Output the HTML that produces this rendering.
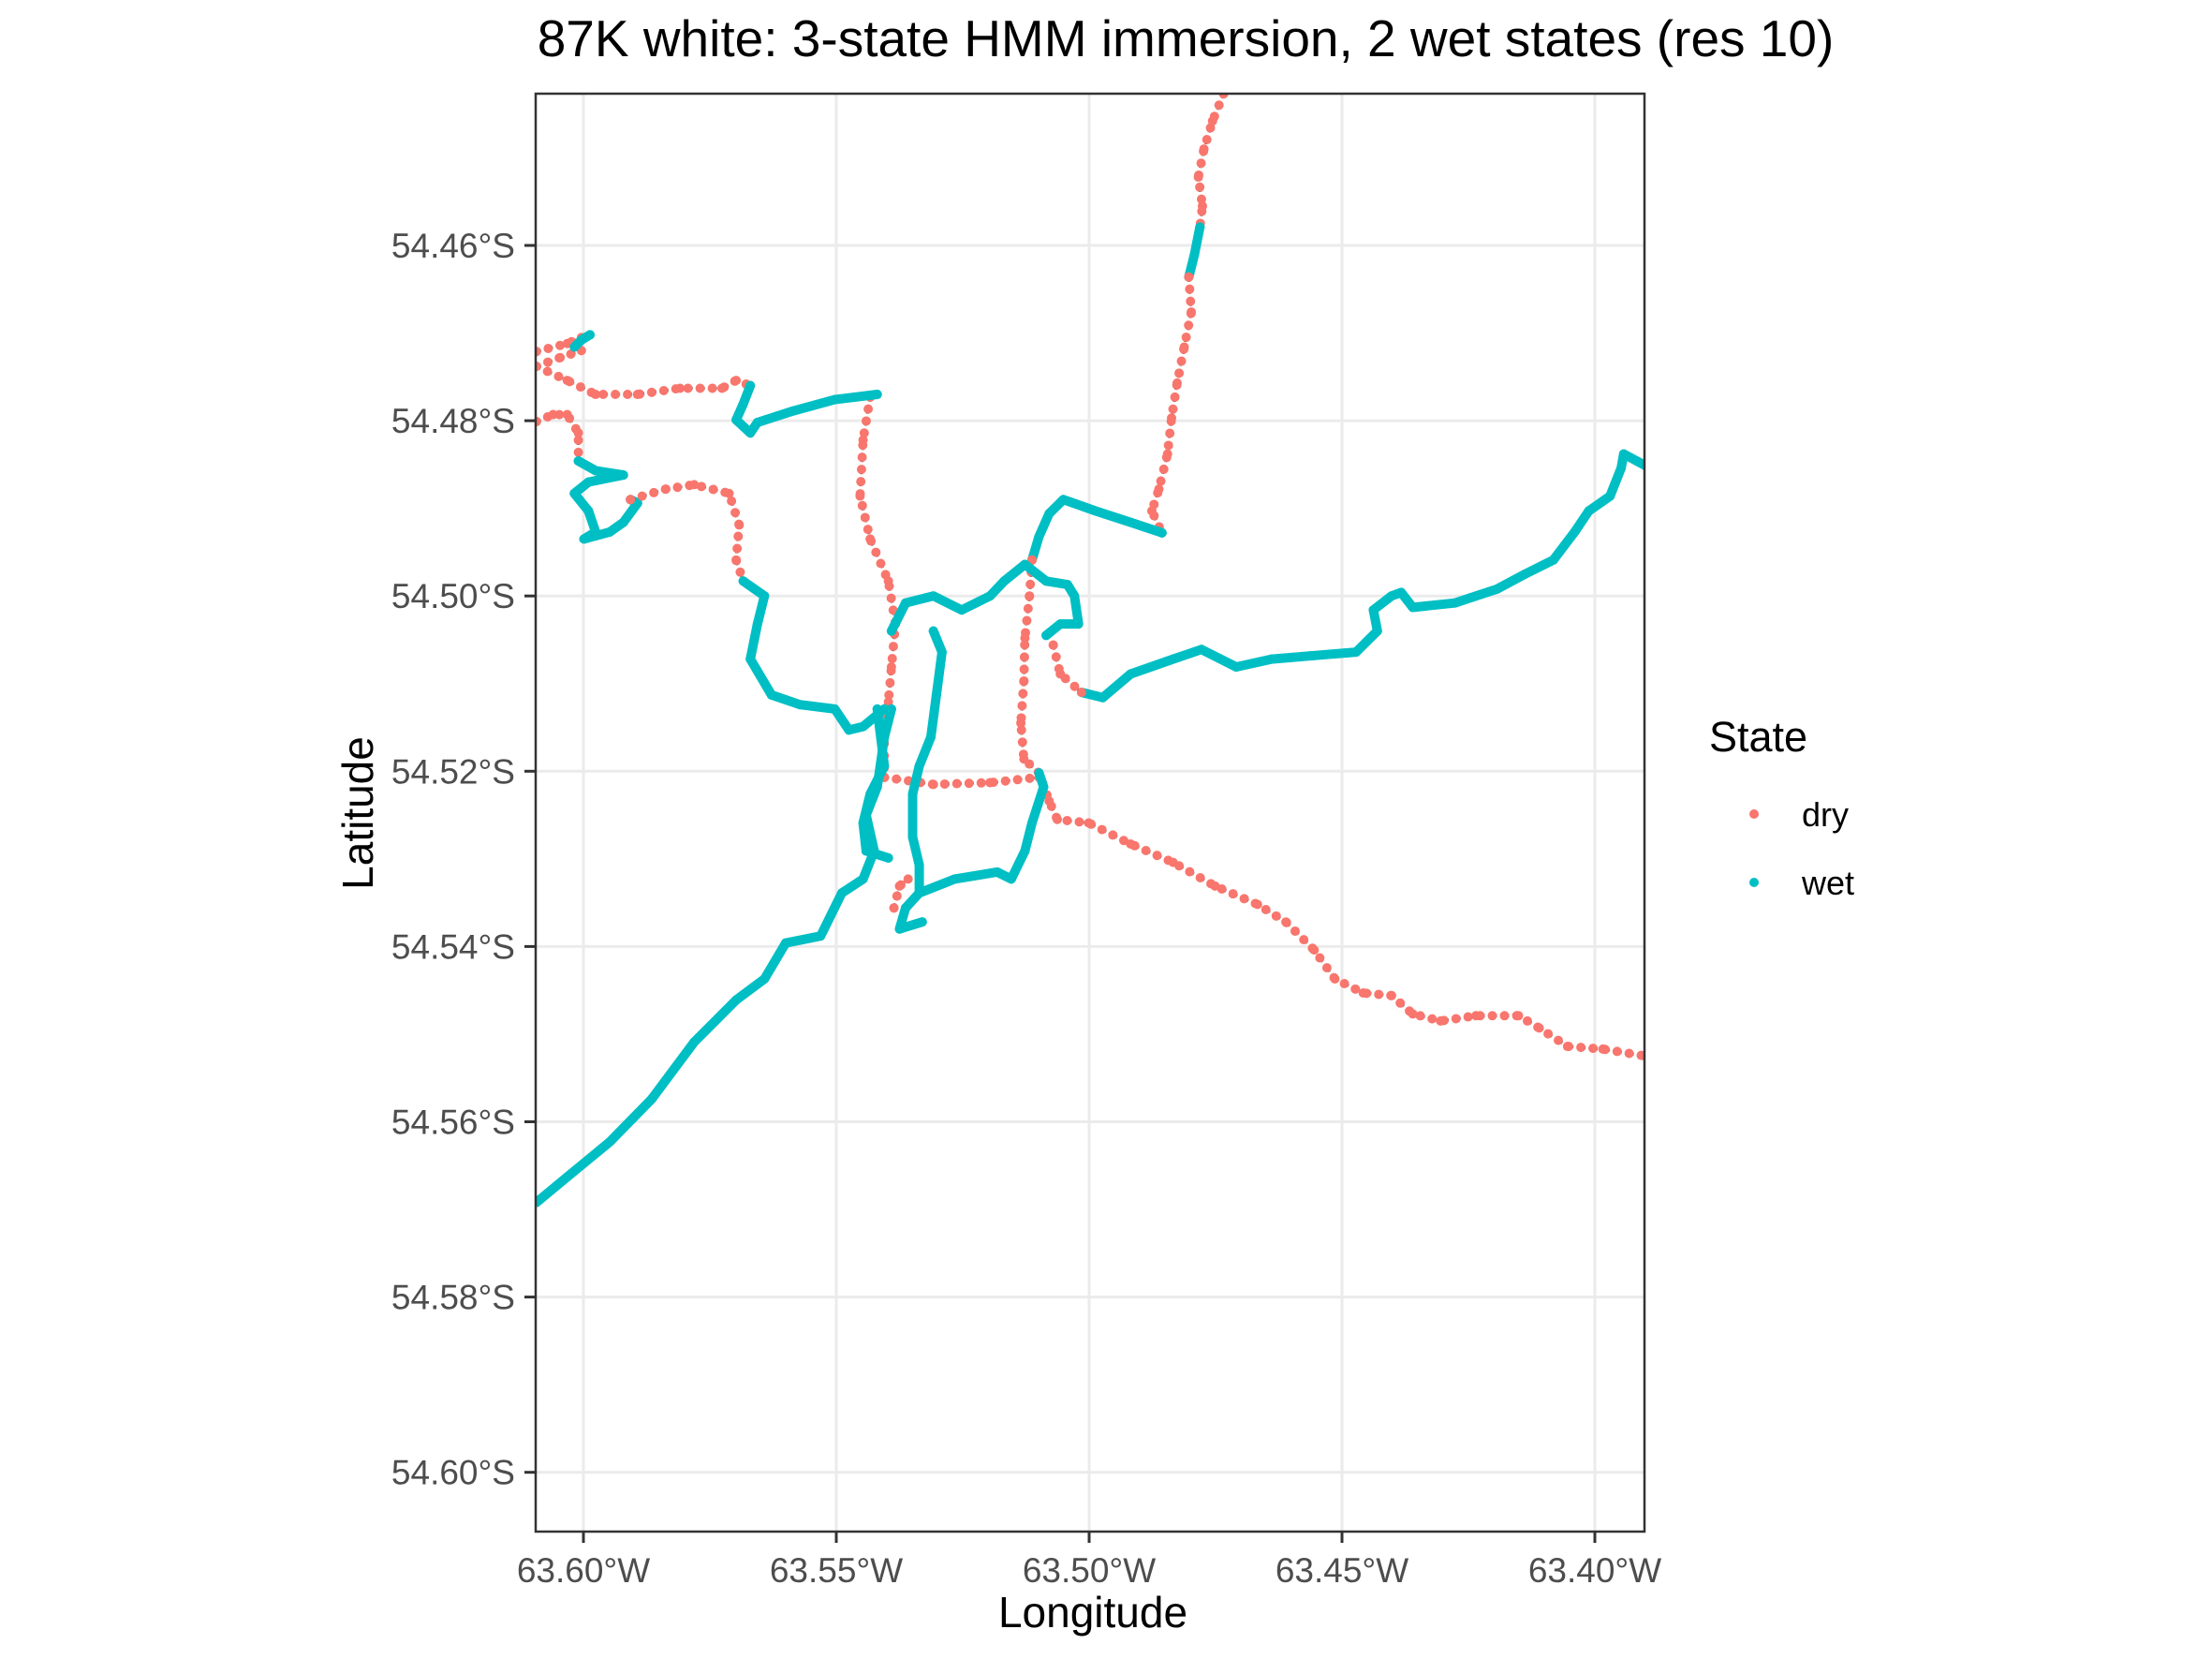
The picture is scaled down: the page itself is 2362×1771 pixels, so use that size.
<!DOCTYPE html>
<html><head><meta charset="utf-8"><style>
html,body{margin:0;padding:0;background:#fff;}
svg{display:block;font-family:"Liberation Sans",Arial,sans-serif;}
</style></head><body>
<svg id="chart" width="2362" height="1771" viewBox="0 0 2362 1771" xmlns="http://www.w3.org/2000/svg">
<rect width="2362" height="1771" fill="#fff"/>
<text x="1266" y="60" text-anchor="middle" font-size="55" fill="#000">87K white: 3-state HMM immersion, 2 wet states (res 10)</text>
<defs><clipPath id="pc"><rect x="572" y="100" width="1184" height="1535"/></clipPath></defs>
<g id="grid"></g>
<g id="tracks" clip-path="url(#pc)"></g>
<rect x="572" y="100" width="1184" height="1535" fill="none" stroke="#333" stroke-width="2.5"/>
<g id="axes"></g>
<text x="1167" y="1737" text-anchor="middle" font-size="46" fill="#000">Longitude</text>
<text transform="translate(398,868) rotate(-90)" text-anchor="middle" font-size="46" fill="#000">Latitude</text>
<g>
<text x="1825" y="802" font-size="45" fill="#000">State</text>
<circle cx="1873" cy="869" r="5" fill="#F8766D"/>
<text x="1924" y="882" font-size="36" fill="#000">dry</text>
<circle cx="1873" cy="942" r="5" fill="#00BFC4"/>
<text x="1924" y="955" font-size="36" fill="#000">wet</text>
</g>
</svg>
<script>
const xTicks=[63.60,63.55,63.50,63.45,63.40];
const xTickLabels=["63.60°W","63.55°W","63.50°W","63.45°W","63.40°W"];
const yTicks=[54.46,54.48,54.50,54.52,54.54,54.56,54.58,54.60];
const yTickLabels=["54.46°S","54.48°S","54.50°S","54.52°S","54.54°S","54.56°S","54.58°S","54.60°S"];

const d1Lon=[63.4734,63.4756,63.4773,63.4784,63.4776,63.4781];
const d1Lat=[54.4427,54.4458,54.4490,54.4522,54.4555,54.4579];
const w1Lon=[63.4781,63.4792,63.4803];
const w1Lat=[54.4579,54.4611,54.4636];
const d2Lon=[63.4803,63.4798,63.4812,63.4826,63.4837,63.4845,63.4862,63.4876,63.4856];
const d2Lat=[54.4636,54.4676,54.4716,54.4757,54.4797,54.4838,54.4878,54.4903,54.4928];
const w2Lon=[63.4856,63.4918,63.4987,63.5051,63.5079,63.5099,63.5113];
const w2Lat=[54.4928,54.4916,54.4903,54.4890,54.4906,54.4932,54.4959];
const d3Lon=[63.5113,63.5118,63.5127,63.5129,63.5135,63.5129,63.5099,63.5079,63.5063,63.5001,63.4918,63.4834,63.4751,63.4667,63.4611,63.4555,63.4514,63.4458,63.4402,63.4360,63.4305,63.4235,63.4151,63.4110,63.4054,63.3984,63.3901];
const d3Lat=[54.4959,54.5000,54.5048,54.5097,54.5145,54.5186,54.5202,54.5234,54.5255,54.5259,54.5283,54.5304,54.5331,54.5352,54.5372,54.5404,54.5437,54.5453,54.5456,54.5477,54.5485,54.5479,54.5479,54.5493,54.5514,54.5517,54.5525];
const d4Lon=[63.5405,63.5308,63.5196,63.5099];
const d4Lat=[54.5207,54.5215,54.5213,54.5207];
const d5Lon=[63.5433,63.5447,63.5453,63.5433,63.5397,63.5383,63.5391,63.5397,63.5405,63.5405];
const d5Lat=[54.4773,54.4822,54.4886,54.4935,54.4983,54.5032,54.5081,54.5121,54.5161,54.5207];
const d6Lon=[63.5386,63.5375,63.5358];
const d6Lat=[54.5356,54.5331,54.5323];
const d7Lon=[63.6093,63.6032,63.6004];
const d7Lat=[54.4721,54.4712,54.4705];
const d8Lon=[63.6093,63.6046,63.6004];
const d8Lat=[54.4738,54.4728,54.4720];
const d9Lon=[63.6093,63.6032,63.5976,63.5893,63.5809,63.5726,63.5698,63.5670];
const d9Lat=[54.4738,54.4754,54.4770,54.4770,54.4763,54.4763,54.4754,54.4760];
const w3Lon=[63.6018,63.6004,63.5987];
const w3Lat=[54.4716,54.4708,54.4702];
const w4Lon=[63.5670,63.5684,63.5698,63.5670,63.5656,63.5586,63.5503,63.5419];
const w4Lat=[54.4760,54.4781,54.4799,54.4814,54.4802,54.4789,54.4776,54.4770];
const d10Lon=[63.6093,63.6060,63.6032,63.6010,63.6010];
const d10Lat=[54.4801,54.4793,54.4793,54.4814,54.4846];
const w5Lon=[63.6010,63.5976,63.5921,63.5990,63.6018,63.5990,63.5976,63.5999,63.5948,63.5921,63.5893,63.5907];
const w5Lat=[54.4846,54.4857,54.4862,54.4870,54.4883,54.4903,54.4927,54.4935,54.4927,54.4916,54.4894,54.4890];
const d11Lon=[63.5907,63.5837,63.5781,63.5712,63.5692,63.5698,63.5684];
const d11Lat=[54.4890,54.4878,54.4873,54.4883,54.4919,54.4959,54.4983];
const w6Lon=[63.5684,63.5642,63.5656,63.5670,63.5628,63.5572,63.5503,63.5475,63.5447,63.5405];
const w6Lat=[54.4983,54.5000,54.5032,54.5072,54.5113,54.5124,54.5129,54.5153,54.5149,54.5129];
const w7Lon=[63.6093,63.6032,63.5948,63.5865,63.5781,63.5698,63.5642,63.5600,63.5531,63.5489,63.5447,63.5425,63.5441,63.5419,63.5405,63.5391];
const w7Lat=[54.5692,54.5663,54.5623,54.5574,54.5509,54.5461,54.5437,54.5396,54.5388,54.5339,54.5323,54.5291,54.5250,54.5218,54.5161,54.5129];
const w8Lon=[63.5015,63.4973,63.4918,63.4834,63.4778,63.4709,63.4639,63.4555,63.4472,63.4430,63.4438,63.4402,63.4383,63.4360,63.4277,63.4193,63.4138,63.4082,63.4040,63.4012,63.3970,63.3948,63.3943,63.3901];
const w8Lat=[54.5110,54.5116,54.5089,54.5072,54.5061,54.5081,54.5072,54.5068,54.5064,54.5040,54.5016,54.5000,54.4996,54.5013,54.5008,54.4992,54.4975,54.4959,54.4927,54.4903,54.4886,54.4854,54.4838,54.4851];
const d12Lon=[63.5071,63.5057,63.5015];
const d12Lat=[54.5056,54.5089,54.5110];
const w9Lon=[63.5391,63.5363,63.5308,63.5252,63.5196,63.5168,63.5127,63.5085,63.5043,63.5029,63.5021,63.5057,63.5085];
const w9Lat=[54.5040,54.5008,54.5000,54.5016,54.5000,54.4983,54.4964,54.4983,54.4987,54.5000,54.5032,54.5032,54.5045];
const w10Lon=[63.5308,63.5291,63.5302,63.5313,63.5336,63.5349,63.5349,63.5336,63.5336,63.5363,63.5336,63.5266,63.5182,63.5154,63.5127,63.5113,63.5090,63.5099];
const w10Lat=[54.5040,54.5064,54.5113,54.5161,54.5194,54.5226,54.5275,54.5307,54.5339,54.5356,54.5339,54.5323,54.5315,54.5323,54.5291,54.5259,54.5218,54.5202];
const w11Lon=[63.5419,63.5405,63.5433,63.5447,63.5441,63.5397];
const w11Lat=[54.5129,54.5194,54.5226,54.5259,54.5291,54.5299];
const w12Lon=[63.5363,63.5375,63.5330];
const w12Lat=[54.5356,54.5380,54.5372];

const segments=[
 ["dry",d1Lon,d1Lat],["wet",w1Lon,w1Lat],["dry",d2Lon,d2Lat],["wet",w2Lon,w2Lat],
 ["dry",d3Lon,d3Lat],["dry",d4Lon,d4Lat],["dry",d5Lon,d5Lat],["dry",d6Lon,d6Lat],
 ["dry",d7Lon,d7Lat],["dry",d8Lon,d8Lat],["dry",d9Lon,d9Lat],["wet",w3Lon,w3Lat],
 ["wet",w4Lon,w4Lat],["dry",d10Lon,d10Lat],["wet",w5Lon,w5Lat],["dry",d11Lon,d11Lat],
 ["wet",w6Lon,w6Lat],["wet",w7Lon,w7Lat],["wet",w8Lon,w8Lat],["dry",d12Lon,d12Lat],
 ["wet",w9Lon,w9Lat],["wet",w10Lon,w10Lat],["wet",w11Lon,w11Lat],["wet",w12Lon,w12Lat]
];

const NS='http://www.w3.org/2000/svg';
function xPx(lon){return 623+(63.60-lon)/0.05*270;}
function yPx(lat){return 262+(lat-54.46)/0.02*187.1;}
function mk(tag,attrs,parent){const e=document.createElementNS(NS,tag);for(const k in attrs)e.setAttribute(k,attrs[k]);parent.appendChild(e);return e;}

const grid=document.getElementById('grid');
const axes=document.getElementById('axes');
xTicks.forEach((t,i)=>{
  const x=xPx(t);
  const g=mk('line',{x1:x,x2:x,y1:100,y2:1635,stroke:'#EBEBEB','stroke-width':3},grid);
  
  
  const tk=mk('line',{x1:x,x2:x,y1:1635,y2:1647,stroke:'#333','stroke-width':3},axes);
  
  
  const lb=mk('text',{x:x,y:1689,'text-anchor':'middle','font-size':37,fill:'#4D4D4D'},axes);
  lb.textContent=xTickLabels[i];
  
  
});
yTicks.forEach((t,i)=>{
  const y=yPx(t);
  const g=mk('line',{x1:572,x2:1756,y1:y,y2:y,stroke:'#EBEBEB','stroke-width':3},grid);
  
  
  const tk=mk('line',{x1:560,x2:572,y1:y,y2:y,stroke:'#333','stroke-width':3},axes);
  
  
  const lb=mk('text',{x:550,y:y+13,'text-anchor':'end','font-size':37,fill:'#4D4D4D'},axes);
  lb.textContent=yTickLabels[i];
  
  
});

const tracks=document.getElementById('tracks');
segments.forEach(s=>{
  const pts=s[1].map((lon,i)=>xPx(lon).toFixed(1)+','+yPx(s[2][i]).toFixed(1)).join(' ');
  if(s[0]==='dry'){
    const bl=mk('polyline',{points:pts,fill:'none',stroke:'#000','stroke-width':3,'stroke-dasharray':'5 8'},tracks);
    
    
    const dt=mk('polyline',{points:pts,fill:'none',stroke:'#F8766D','stroke-width':10,'stroke-linecap':'round','stroke-linejoin':'round','stroke-dasharray':'0 13'},tracks);
    
    
  } else {
    const wl=mk('polyline',{points:pts,fill:'none',stroke:'#00BFC4','stroke-width':10,'stroke-linecap':'round','stroke-linejoin':'round'},tracks);
    
    
  }
  s[1].forEach((lon,i)=>{
    const c=mk('circle',{cx:xPx(lon),cy:yPx(s[2][i]),r:5,fill:s[0]==='dry'?'#F8766D':'#00BFC4'},tracks);
    
    
  });
});
</script>
</body></html>
